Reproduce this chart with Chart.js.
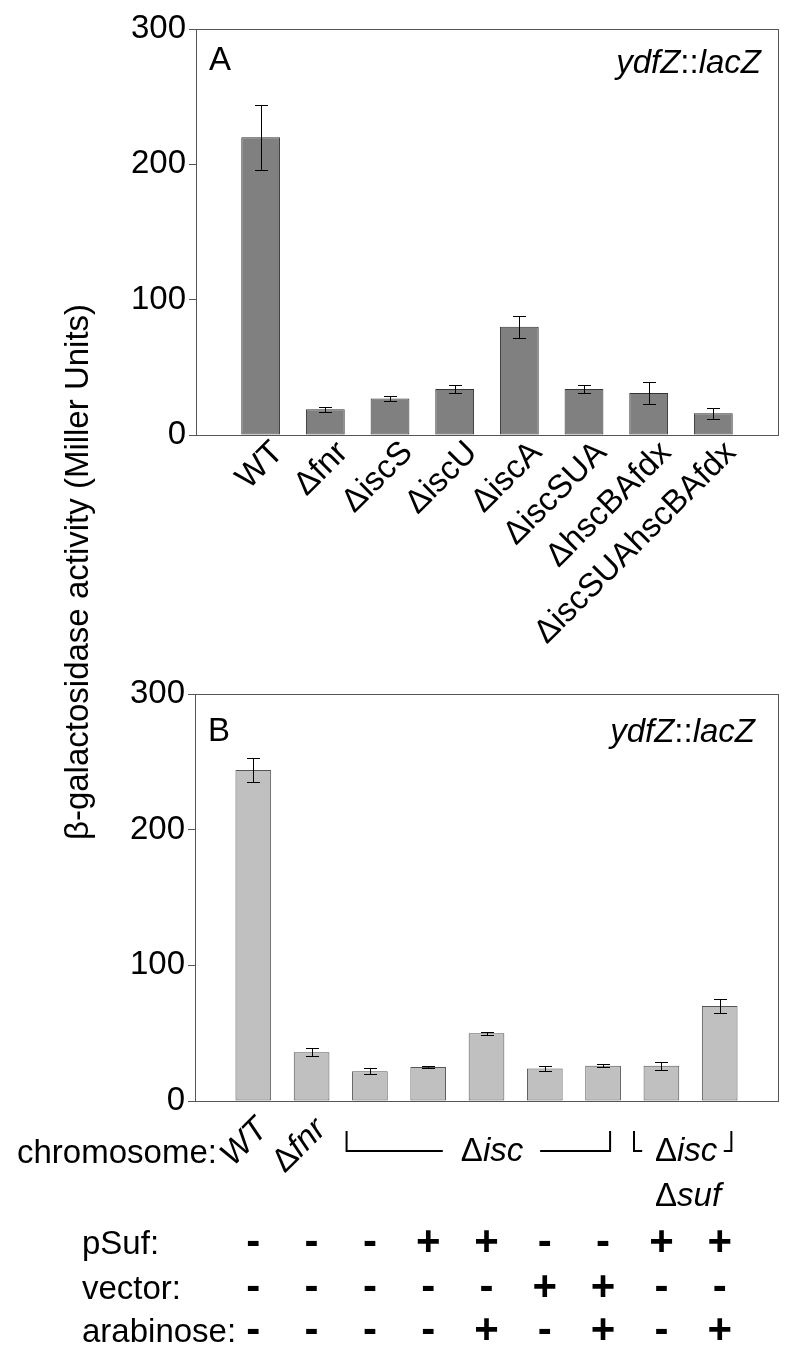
<!DOCTYPE html>
<html>
<head>
<meta charset="utf-8">
<script src="https://cdn.jsdelivr.net/npm/chart.js@4"></script>
<style>
  body { margin: 0; background: #fff; }
  #page { position: relative; width: 796px; height: 1348px; overflow: hidden; }
  canvas { position: absolute; left: 0; }
  #chartA { top: 0; }
  #chartB { top: 660px; }
  #ytitle {
    position: absolute; left: -222px; top: 552px; width: 600px; height: 40px;
    line-height: 40px; text-align: center; white-space: nowrap;
    font: 33px 'Liberation Sans', Arial, sans-serif; color: #000;
    transform: rotate(-90deg);
  }
</style>
</head>
<body>
<div id="page">
  <canvas id="chartA" width="796" height="660"></canvas>
  <canvas id="chartB" width="796" height="688"></canvas>
  <div id="ytitle">β-galactosidase activity (Miller Units)</div>
</div>
<script>
const FONT = "'Liberation Sans', Arial, sans-serif";

// panel A data
const strainsA = ['WT', 'Δfnr', 'ΔiscS', 'ΔiscU', 'ΔiscA', 'ΔiscSUA', 'ΔhscBAfdx', 'ΔiscSUAhscBAfdx'];
const valuesA = [220, 19, 27, 34, 80, 34, 31, 16];
const errorsA = [24, 2, 2, 3, 8, 3, 8, 4];

// panel B data
const strainsB = ['WT', 'fnr', '', '', '', '', '', '', ''];
const valuesB = [244, 36, 22, 25, 50, 24, 26, 26, 70];
const errorsB = [9, 3, 2, 1, 1, 2, 1, 3, 5];
const pSuf = ['-', '-', '-', '+', '+', '-', '-', '+', '+'];
const vector = ['-', '-', '-', '-', '-', '+', '+', '-', '-'];
const arabinose = ['-', '-', '-', '-', '+', '-', '+', '-', '+'];

const yTicks = [0, 100, 200, 300];

Chart.defaults.font.family = FONT;
Chart.defaults.color = '#000';

// draw a run of text pieces, some italic, starting at x
function drawParts(ctx, parts, x, y, size) {
  let cx = x;
  parts.forEach(([t, it]) => {
    ctx.font = `${it ? 'italic ' : ''}${size}px ${FONT}`;
    ctx.fillText(t, cx, y);
    cx += ctx.measureText(t).width;
  });
}
function partsWidth(ctx, parts, size) {
  return parts.reduce((w, [t, it]) => {
    ctx.font = `${it ? 'italic ' : ''}${size}px ${FONT}`;
    return w + ctx.measureText(t).width;
  }, 0);
}

function errorBars(errors) {
  return {
    id: 'errorBars',
    afterDatasetsDraw(chart) {
      const { ctx, scales: { x, y } } = chart;
      ctx.save();
      ctx.strokeStyle = '#000';
      ctx.lineWidth = 1;
      chart.data.datasets[0].data.forEach((d, i) => {
        const cx = Math.round(x.getPixelForValue(d.x)) + 0.5;
        const top = Math.round(y.getPixelForValue(d.y + errors[i])) + 0.5;
        const bot = Math.round(y.getPixelForValue(d.y - errors[i])) + 0.5;
        ctx.beginPath();
        ctx.moveTo(cx, top); ctx.lineTo(cx, bot);
        ctx.moveTo(cx - 6.5, top); ctx.lineTo(cx + 6.5, top);
        ctx.moveTo(cx - 6.5, bot); ctx.lineTo(cx + 6.5, bot);
        ctx.stroke();
      });
      ctx.restore();
    }
  };
}

const frame = {
  id: 'frame',
  afterDraw(chart) {
    const { ctx, chartArea: a } = chart;
    ctx.save();
    ctx.strokeStyle = '#555';
    ctx.lineWidth = 1;
    ctx.strokeRect(Math.round(a.left) + 0.5, Math.round(a.top) + 0.5, Math.round(a.right - a.left), Math.round(a.bottom - a.top));
    ctx.restore();
  }
};

function panelText(letter, letterY, tagRight, tagY) {
  return {
    id: 'panelText',
    afterDraw(chart) {
      const { ctx, chartArea: a } = chart;
      ctx.save();
      ctx.fillStyle = '#000';
      ctx.textAlign = 'left';
      ctx.textBaseline = 'alphabetic';
      ctx.font = `33px ${FONT}`;
      ctx.fillText(letter, a.left + 13, letterY);
      const tag = [['ydfZ', true], ['::', false], ['lacZ', true]];
      drawParts(ctx, tag, tagRight - partsWidth(ctx, tag, 33), tagY, 33);
      ctx.restore();
    }
  };
}

function rotatedLabels(labelParts, dx, dy) {
  return {
    id: 'rotLabels',
    afterDraw(chart) {
      const { ctx, scales: { x }, chartArea: a } = chart;
      ctx.save();
      ctx.fillStyle = '#000';
      ctx.textAlign = 'left';
      ctx.textBaseline = 'alphabetic';
      labelParts.forEach((parts, i) => {
        if (!parts.length) return;
        ctx.save();
        ctx.translate(x.getPixelForValue(i + 1) + dx, a.bottom + dy);
        ctx.rotate(-Math.PI / 4);
        drawParts(ctx, parts, -partsWidth(ctx, parts, 33), 0, 33);
        ctx.restore();
      });
      ctx.restore();
    }
  };
}

function buildChart(id, cfg) {
  return new Chart(document.getElementById(id), {
    type: 'bar',
    data: {
      datasets: [{
        data: cfg.values.map((v, i) => ({ x: i + 1, y: v })),
        backgroundColor: cfg.fill,
        borderColor: cfg.edge,
        borderWidth: 1,
        borderSkipped: false,
        barPercentage: cfg.barPct,
        categoryPercentage: 1
      }]
    },
    options: {
      responsive: false,
      animation: false,
      events: [],
      layout: { padding: { top: cfg.top, right: 18, left: 0, bottom: 0 } },
      plugins: { legend: { display: false }, tooltip: { enabled: false } },
      scales: {
        x: {
          type: 'linear', min: 0, max: cfg.values.length + 1, offset: false,
          ticks: { display: false, stepSize: 1 },
          grid: { display: false, offset: false },
          border: { color: '#555', width: 1 },
          afterFit: s => { s.height = cfg.xHeight; }
        },
        y: {
          min: 0, max: 300,
          afterBuildTicks: s => { s.ticks = yTicks.map(v => ({ value: v })); },
          ticks: { font: { size: 33 }, color: '#000', padding: 3 },
          grid: { drawOnChartArea: false, tickLength: 7, color: '#555' },
          border: { color: '#555', width: 1 },
          afterFit: s => { s.width = cfg.yWidth; }
        }
      }
    },
    plugins: cfg.plugins
  });
}

// panel A
buildChart('chartA', {
  values: valuesA, fill: '#808080', edge: '#333', barPct: 0.6,
  top: 29, xHeight: 225, yWidth: 196,
  plugins: [frame, errorBars(errorsA), panelText('A', 70, 761, 73),
    rotatedLabels(strainsA.map(s => [[s, false]]), 24, 19)]
});

// panel B table + brackets
const annotB = {
  id: 'annotB',
  afterDraw(chart) {
    const { ctx, scales: { x } } = chart;
    const px = v => x.getPixelForValue(v);
    ctx.save();
    ctx.fillStyle = '#000';
    ctx.strokeStyle = '#000';
    ctx.textBaseline = 'alphabetic';
    ctx.textAlign = 'left';
    ctx.font = `33px ${FONT}`;
    ctx.fillText('chromosome:', 17, 503);
    const rows = [['pSuf:', pSuf, 594], ['vector:', vector, 639], ['arabinose:', arabinose, 682]];
    rows.forEach(([name, signs, y]) => {
      ctx.font = `33px ${FONT}`;
      ctx.textAlign = 'left';
      ctx.fillText(name, 82, y);
      ctx.font = `bold 42px ${FONT}`;
      ctx.textAlign = 'center';
      signs.forEach((s, i) => ctx.fillText(s, px(i + 1), y + 1));
    });
    // brackets
    ctx.lineWidth = 2;
    ctx.beginPath();
    ctx.moveTo(px(2.6), 471); ctx.lineTo(px(2.6), 491); ctx.lineTo(px(4.25), 491);
    ctx.moveTo(px(5.92), 491); ctx.lineTo(px(7.12), 491); ctx.lineTo(px(7.12), 471);
    ctx.moveTo(px(7.53), 471); ctx.lineTo(px(7.53), 491); ctx.lineTo(px(7.67), 491);
    ctx.moveTo(px(9.07), 491); ctx.lineTo(px(9.2), 491); ctx.lineTo(px(9.2), 471);
    ctx.stroke();
    ctx.textAlign = 'left';
    drawParts(ctx, [['Δ', false], ['isc', true]], px(4.56), 501, 33);
    drawParts(ctx, [['Δ', false], ['isc', true]], px(7.89), 501, 33);
    drawParts(ctx, [['Δ', false], ['suf', true]], px(7.89), 546, 33);
    ctx.restore();
  }
};

buildChart('chartB', {
  values: valuesB, fill: '#c0c0c0', edge: '#555', barPct: 0.612,
  top: 34, xHeight: 247, yWidth: 195,
  plugins: [frame, errorBars(errorsB), panelText('B', 81, 755, 82),
    rotatedLabels(strainsB.map(s => s === '' ? [] : (s === 'WT' ? [['WT', true]] : [['Δ', false], [s, true]])), 16, 30),
    annotB]
});
</script>
</body>
</html>
